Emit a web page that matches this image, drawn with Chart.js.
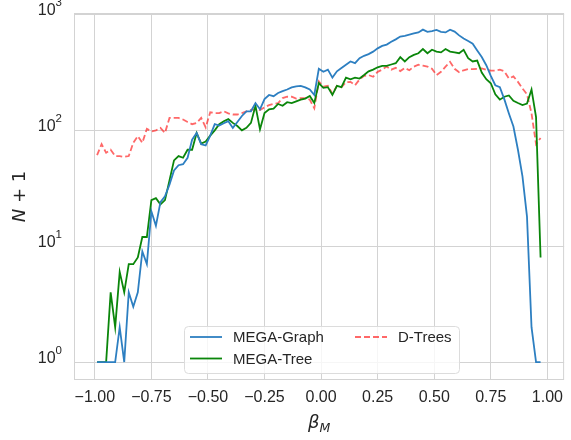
<!DOCTYPE html>
<html>
<head>
<meta charset="utf-8">
<script src="https://cdn.jsdelivr.net/npm/chart.js@4.4.0/dist/chart.umd.min.js"></script>
<style>
  html, body { margin: 0; padding: 0; background: #fff; }
</style>
</head>
<body>
<canvas id="chart" width="571" height="440"></canvas>
<script>
// bin centres of beta_M
const betaM = [-0.99, -0.97, -0.95, -0.93, -0.91, -0.89, -0.87, -0.85, -0.83, -0.81,
  -0.79, -0.77, -0.75, -0.73, -0.71, -0.69, -0.67, -0.65, -0.63, -0.61,
  -0.59, -0.57, -0.55, -0.53, -0.51, -0.49, -0.47, -0.45, -0.43, -0.41,
  -0.39, -0.37, -0.35, -0.33, -0.31, -0.29, -0.27, -0.25, -0.23, -0.21,
  -0.19, -0.17, -0.15, -0.13, -0.11, -0.09, -0.07, -0.05, -0.03, -0.01,
  0.01, 0.03, 0.05, 0.07, 0.09, 0.11, 0.13, 0.15, 0.17, 0.19,
  0.21, 0.23, 0.25, 0.27, 0.29, 0.31, 0.33, 0.35, 0.37, 0.39,
  0.41, 0.43, 0.45, 0.47, 0.49, 0.51, 0.53, 0.55, 0.57, 0.59,
  0.61, 0.63, 0.65, 0.67, 0.69, 0.71, 0.73, 0.75, 0.77, 0.79,
  0.81, 0.83, 0.85, 0.87, 0.89, 0.91, 0.93, 0.95, 0.97];

// N + 1 per bin
const megaGraph = [1, 1, 1, 1, 1, 2, 1, 4, 3, 4,
  9, 7, 20, 15, 24, 27, 34, 45, 50, 51,
  58, 83, 95, 76, 74, 90, 113, 110, 115, 120,
  105, 118, 133, 146, 146, 172, 152, 186, 202, 197,
  210, 218, 225, 235, 240, 242, 235, 225, 202, 340,
  320, 334, 285, 323, 345, 368, 393, 380, 420, 440,
  455, 478, 510, 535, 550, 582, 610, 645, 655, 670,
  686, 700, 740, 708, 720, 735, 708, 700, 740, 712,
  660, 620, 590, 560, 490, 430, 365, 295, 245, 236,
  185, 140, 108, 68, 40, 18, 2, 1, 1];

const megaTree = [1, 1, 1, 4, 2, 6, 4, 7, 7, 8,
  12, 12, 25, 26, 23, 25, 37, 55, 60, 58,
  68, 68, 95, 77, 80, 90, 100, 113, 120, 125,
  116, 109, 100, 105, 116, 163, 102, 141, 152, 154,
  169, 163, 175, 172, 178, 184, 188, 198, 172, 256,
  233, 236, 202, 242, 236, 285, 276, 285, 280, 300,
  323, 334, 350, 360, 360, 370, 380, 428, 393, 428,
  448, 463, 503, 463, 496, 478, 471, 503, 478, 471,
  463, 496, 420, 393, 400, 315, 276, 255, 205, 184,
  195, 200, 180, 172, 165, 170, 225, 130, 8];

const dTrees = [61, 76, 64, 68, 60, 60, 59, 60, 78, 89,
  78, 103, 98, 100, 105, 95, 128, 128, 128, 124,
  118, 113, 116, 128, 106, 143, 141, 141, 146, 140,
  137, 137, 141, 146, 150, 152, 150, 158, 165, 169,
  172, 190, 195, 195, 188, 190, 190, 184, 155, 265,
  238, 242, 207, 242, 236, 260, 262, 245, 275, 295,
  300, 290, 320, 334, 355, 334, 346, 325, 346, 330,
  355, 368, 362, 355, 340, 300, 320, 355, 390, 340,
  318, 330, 338, 338, 340, 342, 334, 328, 328, 334,
  323, 280, 292, 262, 230, 205, 140, 76, 86];

const xTicks = [-1, -0.75, -0.5, -0.25, 0, 0.25, 0.5, 0.75, 1];
const yTicks = [1, 10, 100, 1000];

const textColor = '#262626';
const gridColor = '#d3d3d3';
const sansFont = "'Liberation Sans', Arial, sans-serif";
const mathFont = "'DejaVu Sans', sans-serif";

function pairs(ys) {
  return ys.map((y, i) => ({ x: betaM[i], y: y }));
}

// frame, y tick labels with exponents, axis titles and legend
const decorations = {
  id: 'decorations',
  beforeDatasetsDraw(chart) {
    const ctx = chart.ctx;
    const a = chart.chartArea;
    ctx.save();
    ctx.strokeStyle = gridColor;
    ctx.lineWidth = 1;
    ctx.strokeRect(a.left + 0.5, a.top + 0.5, a.right - a.left - 1, a.bottom - a.top - 1);
    ctx.restore();
  },
  afterDraw(chart) {
    const ctx = chart.ctx;
    const a = chart.chartArea;
    const ys = chart.scales.y;
    ctx.save();
    ctx.fillStyle = textColor;

    // y tick labels 10^n
    yTicks.forEach(v => {
      const py = ys.getPixelForValue(v);
      const exp = String(Math.round(Math.log10(v)));
      ctx.font = '11.5px ' + sansFont;
      const ew = ctx.measureText(exp).width;
      const right = a.left - 12;
      ctx.textAlign = 'left';
      ctx.textBaseline = 'alphabetic';
      ctx.fillText(exp, right - ew, py - 8);
      ctx.font = '16px ' + sansFont;
      ctx.textAlign = 'right';
      ctx.fillText('10', right - ew, py + 1);
    });

    // x title: beta_M
    const cx = (a.left + a.right) / 2;
    ctx.font = 'italic 18px ' + mathFont;
    const bw = ctx.measureText('\u03B2').width;
    ctx.font = 'italic 12.5px ' + mathFont;
    const mw = ctx.measureText('M').width;
    let sx = cx - (bw + mw) / 2;
    ctx.textAlign = 'left';
    ctx.font = 'italic 18px ' + mathFont;
    ctx.fillText('\u03B2', sx, 428);
    ctx.font = 'italic 12.5px ' + mathFont;
    ctx.fillText('M', sx + bw, 432);

    // y title: N + 1
    ctx.save();
    ctx.translate(25, (a.top + a.bottom) / 2);
    ctx.rotate(-Math.PI / 2);
    ctx.font = 'italic 18px ' + mathFont;
    const nw = ctx.measureText('N').width;
    ctx.font = '18px ' + mathFont;
    const rw = ctx.measureText(' + 1').width;
    ctx.textAlign = 'left';
    ctx.font = 'italic 18px ' + mathFont;
    ctx.fillText('N', -(nw + rw) / 2, 0);
    ctx.font = '18px ' + mathFont;
    ctx.fillText(' + 1', -(nw + rw) / 2 + nw, 0);
    ctx.restore();

    // legend, two columns
    const lx = a.left + 110, ly = a.bottom - 54, lw = 275, lh = 47;
    ctx.beginPath();
    if (ctx.roundRect) ctx.roundRect(lx + 0.5, ly + 0.5, lw, lh, 4);
    else ctx.rect(lx + 0.5, ly + 0.5, lw, lh);
    ctx.fillStyle = 'rgba(255,255,255,0.8)';
    ctx.fill();
    ctx.strokeStyle = '#dcdcdc';
    ctx.lineWidth = 1;
    ctx.stroke();

    const slots = [
      { ds: 0, x: lx + 6, y: ly + 11 },
      { ds: 1, x: lx + 6, y: ly + 32.5 },
      { ds: 2, x: lx + 171, y: ly + 11 }
    ];
    ctx.font = '15px ' + sansFont;
    ctx.textBaseline = 'middle';
    slots.forEach(s => {
      const d = chart.data.datasets[s.ds];
      ctx.beginPath();
      ctx.setLineDash(d.borderDash || []);
      ctx.strokeStyle = d.borderColor;
      ctx.lineWidth = d.borderWidth;
      ctx.moveTo(s.x, s.y);
      ctx.lineTo(s.x + 32, s.y);
      ctx.stroke();
      ctx.setLineDash([]);
      ctx.fillStyle = textColor;
      ctx.fillText(d.label, s.x + 43, s.y + 1);
    });
    ctx.restore();
  }
};

new Chart(document.getElementById('chart'), {
  type: 'line',
  data: {
    datasets: [
      { label: 'MEGA-Graph', data: pairs(megaGraph), borderColor: '#2d7fc1', borderWidth: 1.8 },
      { label: 'MEGA-Tree', data: pairs(megaTree), borderColor: '#0a860a', borderWidth: 1.8 },
      { label: 'D-Trees', data: pairs(dTrees), borderColor: 'rgba(255,40,40,0.7)', borderWidth: 1.8, borderDash: [6, 3] }
    ]
  },
  options: {
    responsive: false,
    animation: false,
    devicePixelRatio: 1,
    layout: { padding: { top: 13, right: 2, left: 0, bottom: 0 } },
    elements: {
      point: { radius: 0, hoverRadius: 0 },
      line: { tension: 0, fill: false }
    },
    plugins: {
      legend: { display: false },
      tooltip: { enabled: false }
    },
    scales: {
      x: {
        type: 'linear',
        min: -1.092,
        max: 1.074,
        afterBuildTicks: s => { s.ticks = xTicks.map(v => ({ value: v })); },
        afterFit: s => { s.height = 60; },
        grid: { color: gridColor, lineWidth: 1, drawTicks: false },
        border: { display: false },
        ticks: {
          padding: 8,
          color: textColor,
          font: { family: sansFont, size: 16 },
          maxRotation: 0,
          autoSkip: false,
          callback: v => (v < 0 ? '\u2212' : '') + Math.abs(v).toFixed(2)
        }
      },
      y: {
        type: 'logarithmic',
        min: 0.719,
        max: 1030,
        afterBuildTicks: s => { s.ticks = yTicks.map(v => ({ value: v })); },
        afterFit: s => { s.width = 74; },
        grid: { color: gridColor, lineWidth: 1, drawTicks: false },
        border: { display: false },
        ticks: { display: false }
      }
    }
  },
  plugins: [decorations]
});
</script>
</body>
</html>
